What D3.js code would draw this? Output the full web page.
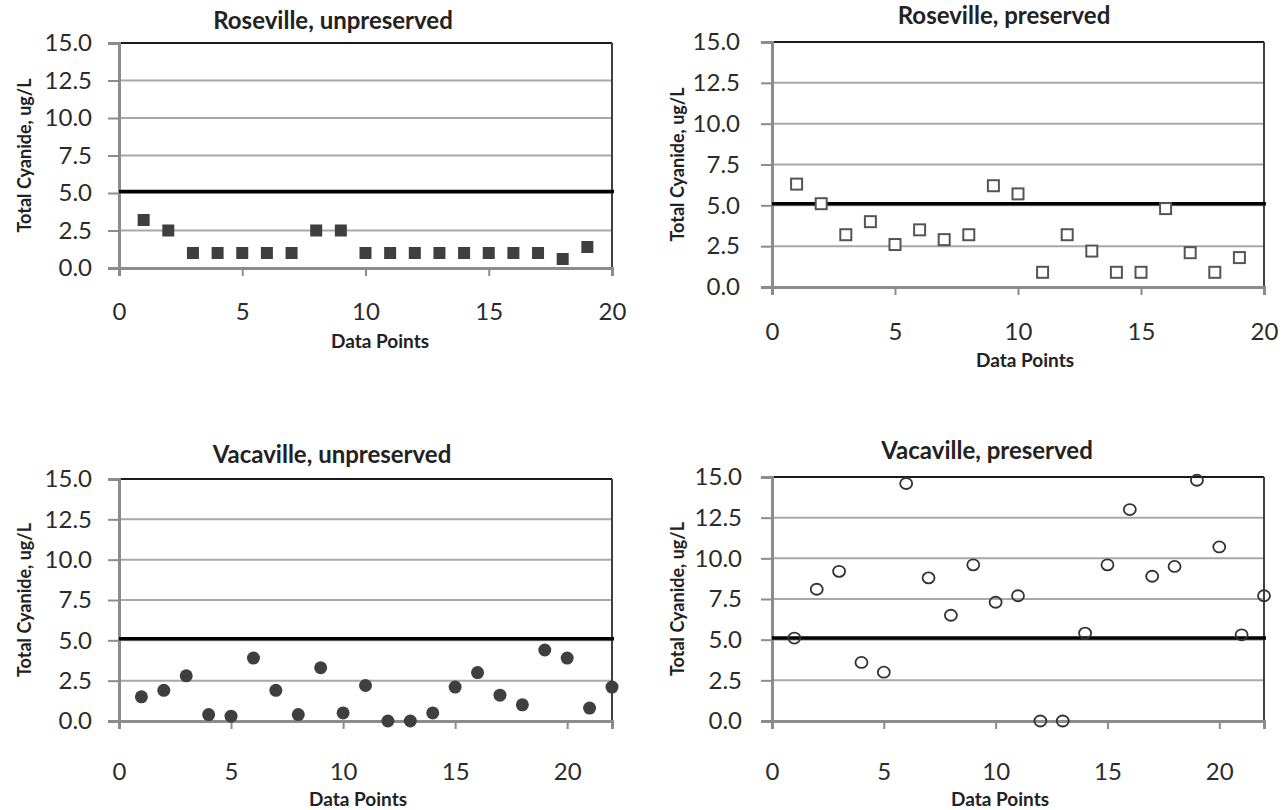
<!DOCTYPE html>
<html>
<head>
<meta charset="utf-8">
<script src="https://cdn.jsdelivr.net/npm/d3@7"></script>
<style>
  body { margin: 0; background: #fff; }
  text { font-family: Lato, "Open Sans", sans-serif; }
</style>
</head>
<body>
<div id="chart"></div>
<script>
// values (x = data point number, starting at 1)
var roseUnpreserved = [3.2, 2.5, 1.0, 1.0, 1.0, 1.0, 1.0, 2.5, 2.5, 1.0, 1.0, 1.0, 1.0, 1.0, 1.0, 1.0, 1.0, 0.6, 1.4];
var rosePreserved   = [6.3, 5.1, 3.2, 4.0, 2.6, 3.5, 2.9, 3.2, 6.2, 5.7, 0.9, 3.2, 2.2, 0.9, 0.9, 4.8, 2.1, 0.9, 1.8];
var vacaUnpreserved = [1.5, 1.9, 2.8, 0.4, 0.3, 3.9, 1.9, 0.4, 3.3, 0.5, 2.2, 0.0, 0.0, 0.5, 2.1, 3.0, 1.6, 1.0, 4.4, 3.9, 0.8, 2.1];
var vacaPreserved   = [5.1, 8.1, 9.2, 3.6, 3.0, 14.6, 8.8, 6.5, 9.6, 7.3, 7.7, 0.0, 0.0, 5.4, 9.6, 13.0, 8.9, 9.5, 14.8, 10.7, 5.3, 7.7];

var titles = ["Roseville, unpreserved", "Roseville, preserved", "Vacaville, unpreserved", "Vacaville, preserved"];
var yTicks = [0, 2.5, 5, 7.5, 10, 12.5, 15];
var xTicks = [0, 5, 10, 15, 20];
var xMax = [20, 20, 22, 22];
var threshold = 5.1;

var width = 1284, height = 810;

var svg = d3.select("#chart").append("svg")
    .attr("width", width)
    .attr("height", height);

// panel boxes (plot area edges in page pixels) and marker style
var panels = [
  {data: roseUnpreserved, left: 119, right: 612, top: 43, bottom: 268, titleX: 333, titleY: 29, tickY: 312, labelX: 380, labelY: 348, yPad: 16, marker: "square-filled"},
  {data: rosePreserved,   left: 772, right: 1264, top: 42, bottom: 287, titleX: 1004, titleY: 24, tickY: 332, labelX: 1025, labelY: 367, yPad: 21, marker: "square-open"},
  {data: vacaUnpreserved, left: 119, right: 612, top: 479, bottom: 721, titleX: 332, titleY: 463, tickY: 772, labelX: 358, labelY: 806, yPad: 16, marker: "circle-filled"},
  {data: vacaPreserved,   left: 772, right: 1264, top: 477, bottom: 721, titleX: 987, titleY: 459, tickY: 772, labelX: 1000, labelY: 806, yPad: 19, marker: "circle-open"}
];

panels.forEach(function(p, i) {
  var g = svg.append("g");

  var x = d3.scaleLinear().domain([0, xMax[i]]).range([p.left, p.right]);
  var y = d3.scaleLinear().domain([0, 15]).range([p.bottom, p.top]);

  // horizontal gridlines
  g.selectAll(".grid")
    .data(yTicks.filter(function(d) { return d > 0 && d < 15; }))
    .enter().append("line")
      .attr("x1", p.left).attr("x2", p.right)
      .attr("y1", function(d) { return y(d); })
      .attr("y2", function(d) { return y(d); })
      .attr("stroke", "#a8a8a8")
      .attr("stroke-width", 2);

  // top and right border of plot area
  g.append("line")
    .attr("x1", p.left).attr("x2", p.right)
    .attr("y1", y(15)).attr("y2", y(15))
    .attr("stroke", "#1a1a1a").attr("stroke-width", 2);
  g.append("line")
    .attr("x1", p.right).attr("x2", p.right)
    .attr("y1", y(15)).attr("y2", y(0))
    .attr("stroke", "#404040").attr("stroke-width", 2);

  // y axis
  var yAxis = g.append("g")
    .attr("transform", "translate(" + p.left + ",0)")
    .call(d3.axisLeft(y).tickValues(yTicks).tickFormat(d3.format(".1f")).tickSize(11).tickPadding(p.yPad));

  // x axis
  var xAxis = g.append("g")
    .attr("transform", "translate(0," + p.bottom + ")")
    .call(d3.axisBottom(x).tickValues(xTicks).tickSize(8).tickPadding(0));

  [yAxis, xAxis].forEach(function(a) {
    a.select(".domain").attr("stroke", "#8c8c8c").attr("stroke-width", 3);
    a.selectAll(".tick line").attr("stroke", "#8c8c8c").attr("stroke-width", 2);
    a.selectAll(".tick text")
      .attr("fill", "#2b2b2b")
      .style("font-size", "24px")
      .style("font-family", "Lato, sans-serif");
  });
  // x tick labels sit well below the axis
  xAxis.selectAll(".tick text")
    .attr("y", p.tickY - p.bottom)
    .attr("dy", "0.35em");

  // threshold line
  g.append("line")
    .attr("x1", p.left).attr("x2", p.right + 2)
    .attr("y1", y(threshold)).attr("y2", y(threshold))
    .attr("stroke", "#000").attr("stroke-width", 3.5);

  // points
  var pts = g.append("g");
  if (p.marker === "square-filled" || p.marker === "square-open") {
    var s = p.marker === "square-filled" ? 12 : 11;
    pts.selectAll("rect")
      .data(p.data)
      .enter().append("rect")
        .attr("x", function(d, j) { return x(j + 1) - s / 2; })
        .attr("y", function(d) { return y(d) - s / 2; })
        .attr("width", s).attr("height", s)
        .attr("fill", p.marker === "square-filled" ? "#3f3f3f" : "#fff")
        .attr("stroke", p.marker === "square-filled" ? "none" : "#555")
        .attr("stroke-width", 2);
  } else {
    pts.selectAll("ellipse")
      .data(p.data)
      .enter().append("ellipse")
        .attr("cx", function(d, j) { return x(j + 1); })
        .attr("cy", function(d) { return y(d); })
        .attr("rx", p.marker === "circle-filled" ? 6.5 : 6)
        .attr("ry", p.marker === "circle-filled" ? 6.5 : 5.5)
        .attr("fill", p.marker === "circle-filled" ? "#3f3f3f" : "none")
        .attr("stroke", p.marker === "circle-filled" ? "none" : "#333")
        .attr("stroke-width", 1.8);
  }

  // title
  g.append("text")
    .attr("x", p.titleX).attr("y", p.titleY)
    .attr("text-anchor", "middle")
    .attr("fill", "#222")
    .style("font-size", "24px")
    .style("font-weight", "bold")
    .text(titles[i]);

  // axis titles
  g.append("text")
    .attr("x", p.labelX).attr("y", p.labelY)
    .attr("text-anchor", "middle")
    .attr("fill", "#222")
    .style("font-size", "19px")
    .style("font-weight", "bold")
    .text("Data Points");

  g.append("text")
    .attr("transform", "translate(" + (p.left - 88) + "," + ((p.top + p.bottom) / 2) + ") rotate(-90)")
    .attr("text-anchor", "middle")
    .attr("fill", "#222")
    .style("font-size", "18px")
    .style("font-weight", "bold")
    .text("Total Cyanide, ug/L");
});
</script>
</body>
</html>
